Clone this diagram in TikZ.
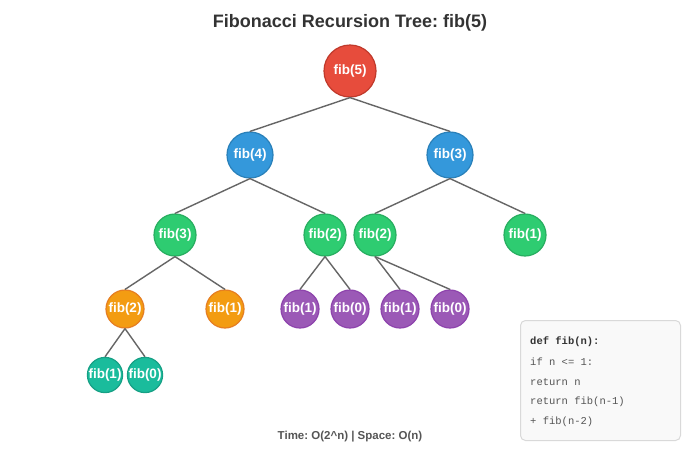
\documentclass[tikz,border=0pt]{standalone}
\usepackage{fontspec}
\setmainfont{Liberation Sans}
\setmonofont{Liberation Mono}
\frenchspacing
\begin{document}
\begin{tikzpicture}[x=1pt,y=-1pt,
  nd/.style={circle,draw,line width=1.2pt,inner sep=0pt,text=white,font=\bfseries\fontsize{13.5}{15}\selectfont},
  lv0/.style={nd,fill=red5,draw=red5d,minimum size=52pt},
  lv1/.style={nd,fill=blue5,draw=blue5d,minimum size=46pt},
  lv2/.style={nd,fill=green5,draw=green5d,minimum size=42pt},
  lv3o/.style={nd,fill=orange5,draw=orange5d,minimum size=38pt},
  lv3p/.style={nd,fill=purple5,draw=purple5d,minimum size=38pt},
  lv4/.style={nd,fill=teal5,draw=teal5d,minimum size=32pt},
  edge/.style={draw=edgegray,line width=1.4pt},
  codeline/.style={anchor=west,text=codegray,font=\ttfamily\fontsize{10.5}{12}\selectfont,inner sep=0pt}
]
\definecolor{red5}{HTML}{E74C3C}\definecolor{red5d}{HTML}{C0392B}
\definecolor{blue5}{HTML}{3498DB}\definecolor{blue5d}{HTML}{2980B9}
\definecolor{green5}{HTML}{2ECC71}\definecolor{green5d}{HTML}{27AE60}
\definecolor{orange5}{HTML}{F39C12}\definecolor{orange5d}{HTML}{E67E22}
\definecolor{purple5}{HTML}{9B59B6}\definecolor{purple5d}{HTML}{8E44AD}
\definecolor{teal5}{HTML}{1ABC9C}\definecolor{teal5d}{HTML}{16A085}
\definecolor{edgegray}{HTML}{666666}
\definecolor{codegray}{HTML}{555555}
\definecolor{titlegray}{HTML}{333333}
\useasboundingbox[fill=white] (0,0) rectangle (700,450);

\node[font=\bfseries\fontsize{18}{21}\selectfont,text=titlegray] (title) at (350,23) {Fibonacci Recursion Tree: fib(5)};

% nodes
\node[lv0] (n5) at (350,71) {fib(5)};
\node[lv1] (n4) at (250,155) {fib(4)};
\node[lv1] (n3r) at (450,155) {fib(3)};
\node[lv2] (n3l) at (175,235) {fib(3)};
\node[lv2] (n2a) at (325,235) {fib(2)};
\node[lv2] (n2b) at (375,235) {fib(2)};
\node[lv2] (n1a) at (525,235) {fib(1)};
\node[lv3o] (n2c) at (125,309) {fib(2)};
\node[lv3o] (n1b) at (225,309) {fib(1)};
\node[lv3p] (p1) at (300,309) {fib(1)};
\node[lv3p] (p2) at (350,309) {fib(0)};
\node[lv3p] (p3) at (400,309) {fib(1)};
\node[lv3p] (p4) at (450,309) {fib(0)};
\node[lv4] (t1) at (105,375) {fib(1)};
\node[lv4] (t2) at (145,375) {fib(0)};

% edges
\draw[edge] (n5.south) -- (n4.north);
\draw[edge] (n5.south) -- (n3r.north);
\draw[edge] (n4.south) -- (n3l.north);
\draw[edge] (n4.south) -- (n2a.north);
\draw[edge] (n3r.south) -- (n2b.north);
\draw[edge] (n3r.south) -- (n1a.north);
\draw[edge] (n3l.south) -- (n2c.north);
\draw[edge] (n3l.south) -- (n1b.north);
\draw[edge] (n2a.south) -- (p1.north);
\draw[edge] (n2a.south) -- (p2.north);
\draw[edge] (n2b.south) -- (p3.north);
\draw[edge] (n2b.south) -- (p4.north);
\draw[edge] (n2c.south) -- (t1.north);
\draw[edge] (n2c.south) -- (t2.north);

% code box
\node[draw=gray!30,fill=gray!5,rounded corners=5pt,line width=1pt,minimum width=160pt,minimum height=120pt,anchor=north west] (code) at (520,320) {};
\node[codeline,font=\ttfamily\bfseries\fontsize{10.5}{12}\selectfont,text=titlegray] (c1) at (530,342) {def fib(n):};
\node[codeline] (c2) at (530,362) {if n <= 1:};
\node[codeline] (c3) at (530,382) {return n};
\node[codeline] (c4) at (530,402) {return fib(n-1)};
\node[codeline] (c5) at (530,422) {+ fib(n-2)};

\node[font=\bfseries\fontsize{11.5}{13}\selectfont,text=codegray] (cx) at (350,437) {Time: O(2\^{}n) | Space: O(n)};
\end{tikzpicture}
\end{document}
